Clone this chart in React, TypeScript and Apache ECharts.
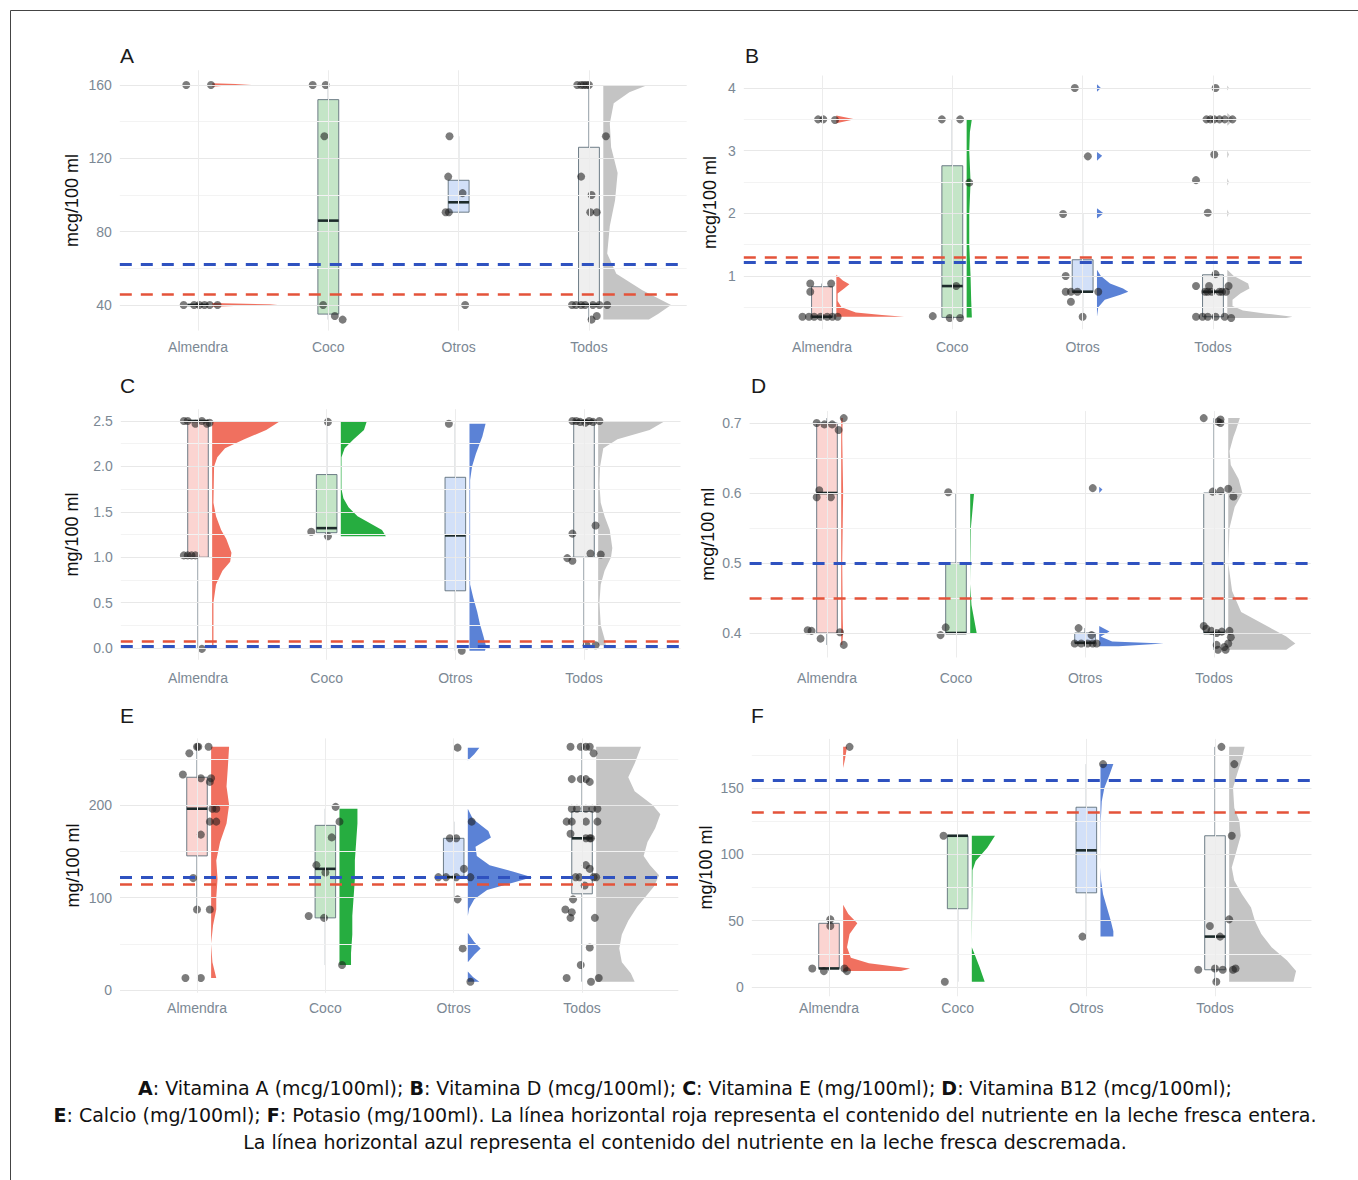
import React, { useEffect, useRef } from 'react';
import * as echarts from 'echarts';

const categories = ['Almendra', 'Coco', 'Otros', 'Todos'];
const violinColors = ['#f0705f', '#26ad40', '#5b82d6', '#c4c4c4'];
const boxFills = ['rgba(240,100,90,0.28)', 'rgba(60,170,70,0.3)', 'rgba(90,140,230,0.27)', 'rgba(180,180,180,0.22)'];
const RED = '#e4533a';
const BLUE = '#2f52c0';
const VIOLIN_BASE = 0.11;
const BOX_HALF = 0.08;

// ---------- Panel A: Vitamina A ----------
const aTicks = [40, 80, 120, 160];
const aMinor = [60, 100, 140];
const aRef = [46, 62]; // [roja (entera), azul (descremada)]
const aBoxes = [[40, 40, 40, 40, 40], [32, 35, 86, 152, 160], [90, 90.6, 96, 108, 132], [32, 40, 40, 126, 160]];
const aPoints = [
  [[-0.09, 160], [0.10, 160], [-0.11, 40], [-0.03, 40], [0.01, 40], [0.05, 40], [0.09, 40], [0.15, 40]],
  [[-0.12, 160], [-0.02, 160], [-0.03, 132], [-0.04, 40], [0.05, 34], [0.11, 32]],
  [[-0.07, 132], [-0.08, 110], [-0.1, 90.6], [-0.075, 90.6], [0.03, 101], [0.05, 40]],
  [[-0.09, 160], [-0.06, 160], [-0.04, 160], [-0.02, 160], [0.0, 160], [0.13, 132], [-0.06, 110], [0.02, 100], [0.01, 90.6], [0.06, 90.6], [-0.13, 40], [-0.1, 40], [-0.06, 40], [-0.03, 40], [0.03, 40], [0.08, 40], [0.14, 40], [0.06, 34], [0.02, 32]],
];
const aViolins = [
  [[161, 0], [160.3, 0.3], [160, 0.17], [159, 0], [41, 0], [40.3, 0.5], [40, 0.44], [39, 0]],
  [],
  [],
  [[160, 0.34], [156, 0.2], [150, 0.08], [139, 0.05], [126, 0.06], [112, 0.11], [97, 0.09], [83, 0.05], [68, 0.03], [57, 0.1], [48, 0.3], [40, 0.52], [35, 0.42], [32, 0.35]],
];

// ---------- Panel B: Vitamina D ----------
const bTicks = [1, 2, 3, 4];
const bMinor = [0.5, 1.5, 2.5, 3.5];
const bRef = [1.3, 1.22];
const bBoxes = [[0.35, 0.35, 0.35, 0.83, 0.88], [0.34, 0.34, 0.84, 2.76, 3.5], [0.35, 0.75, 0.75, 1.26, 2.0], [0.33, 0.35, 0.75, 1.02, 1.03]];
const bPoints = [
  [[-0.03, 3.5], [0.01, 3.5], [0.1, 3.49], [-0.09, 0.88], [0.07, 0.88], [-0.09, 0.75], [-0.15, 0.35], [-0.1, 0.35], [-0.06, 0.35], [-0.01, 0.35], [0.04, 0.35], [0.08, 0.35], [0.12, 0.35]],
  [[-0.08, 3.5], [0.06, 3.5], [0.13, 2.49], [0.03, 0.84], [-0.15, 0.36], [-0.02, 0.33], [0.06, 0.33]],
  [[-0.06, 4.0], [0.04, 2.91], [-0.15, 1.99], [-0.13, 1.0], [-0.13, 0.75], [-0.09, 0.75], [-0.04, 0.75], [0.12, 0.75], [-0.09, 0.59], [0, 0.35]],
  [[0.02, 4.0], [-0.05, 3.5], [-0.02, 3.5], [0.01, 3.5], [0.05, 3.5], [0.09, 3.5], [0.15, 3.5], [0.01, 2.94], [-0.13, 2.53], [-0.04, 2.01], [0.02, 1.03], [-0.13, 0.84], [-0.03, 0.84], [0.12, 0.84], [-0.06, 0.75], [-0.04, 0.75], [-0.01, 0.75], [0.05, 0.75], [0.07, 0.75], [0.1, 0.75], [-0.13, 0.35], [-0.08, 0.35], [-0.04, 0.35], [0.02, 0.35], [0.09, 0.35], [0.14, 0.33]],
];
const bViolins = [
  [[3.56, 0], [3.5, 0.14], [3.44, 0], [1.02, 0], [0.93, 0.05], [0.87, 0.1], [0.8, 0.06], [0.72, 0.01], [0.6, 0.01], [0.5, 0.04], [0.42, 0.15], [0.38, 0.35], [0.35, 0.52]],
  [[3.5, 0.04], [3.3, 0.025], [3.0, 0.02], [2.5, 0.03], [2.0, 0.02], [1.5, 0.02], [1.0, 0.03], [0.6, 0.035], [0.34, 0.04]],
  [[4.06, 0], [4.0, 0.03], [3.94, 0], [2.98, 0], [2.92, 0.04], [2.84, 0], [2.08, 0], [2.0, 0.05], [1.92, 0], [1.1, 0], [1.0, 0.03], [0.88, 0.1], [0.8, 0.2], [0.75, 0.24], [0.7, 0.18], [0.62, 0.06], [0.5, 0.01], [0.35, 0]],
  [[4.04, 0], [4.0, 0.012], [3.96, 0], [3.6, 0], [3.5, 0.05], [3.4, 0], [3.0, 0], [2.94, 0.012], [2.88, 0], [2.56, 0], [2.5, 0.012], [2.44, 0], [2.06, 0], [2.0, 0.012], [1.94, 0], [1.1, 0], [1.0, 0.05], [0.88, 0.16], [0.8, 0.17], [0.72, 0.1], [0.62, 0.04], [0.52, 0.04], [0.45, 0.12], [0.4, 0.3], [0.35, 0.5], [0.33, 0.45]],
];

// ---------- Panel C: Vitamina E ----------
const cTicks = [0, 0.5, 1, 1.5, 2, 2.5];
const cMinor = [0.25, 0.75, 1.25, 1.75, 2.25];
const cRef = [0.07, 0.02];
const cBoxes = [[0, 1.0, 2.5, 2.5, 2.5], [1.23, 1.27, 1.32, 1.91, 2.49], [-0.03, 0.63, 1.24, 1.88, 2.47], [0.03, 1.0, 2.5, 2.5, 2.5]];
const cPoints = [
  [[-0.11, 2.5], [-0.08, 2.5], [-0.02, 2.47], [0.03, 2.5], [0.07, 2.47], [0.09, 2.48], [-0.11, 1.02], [-0.08, 1.02], [-0.05, 1.02], [-0.02, 1.02], [0.03, -0.01]],
  [[0.01, 2.49], [-0.12, 1.28], [0.01, 1.23]],
  [[-0.05, 2.47], [0.05, -0.03]],
  [[-0.09, 2.5], [-0.06, 2.5], [-0.03, 2.49], [0.01, 2.48], [0.04, 2.5], [0.07, 2.49], [0.12, 2.5], [-0.09, 1.26], [0.09, 1.35], [0.05, 1.04], [0.13, 1.03], [-0.13, 0.99], [-0.09, 0.96], [0.02, 0.03], [0.09, 0.03]],
];
const cViolins = [
  [[2.5, 0.53], [2.4, 0.42], [2.3, 0.25], [2.2, 0.1], [2.1, 0.04], [2.0, 0.015], [1.6, 0.01], [1.45, 0.03], [1.3, 0.07], [1.2, 0.11], [1.05, 0.15], [0.95, 0.14], [0.85, 0.08], [0.7, 0.03], [0.5, 0.01], [0.2, 0.01], [0, 0.01]],
  [[2.49, 0.2], [2.4, 0.18], [2.3, 0.1], [2.2, 0.03], [2.1, 0.005], [1.75, 0.005], [1.65, 0.02], [1.55, 0.06], [1.45, 0.13], [1.38, 0.22], [1.3, 0.32], [1.23, 0.35]],
  [[2.47, 0.125], [2.33, 0.1], [2.14, 0.05], [2.0, 0.02], [1.85, 0.005], [0.7, 0.005], [0.55, 0.03], [0.4, 0.06], [0.27, 0.08], [0.12, 0.11], [0.01, 0.13], [-0.03, 0.12]],
  [[2.5, 0.52], [2.4, 0.4], [2.3, 0.15], [2.2, 0.04], [2.0, 0.015], [1.8, 0.01], [1.6, 0.02], [1.45, 0.05], [1.3, 0.09], [1.1, 0.11], [1.0, 0.1], [0.85, 0.05], [0.7, 0.02], [0.5, 0.01], [0.25, 0.02], [0.1, 0.05], [0.03, 0.06]],
];

// ---------- Panel D: Vitamina B12 ----------
const dTicks = [0.4, 0.5, 0.6, 0.7];
const dMinor = [0.45, 0.55, 0.65];
const dRef = [0.45, 0.5];
const dBoxes = [[0.383, 0.4, 0.6, 0.7, 0.707], [0.4, 0.4, 0.4, 0.5, 0.6], [0.38, 0.386, 0.386, 0.4, 0.407], [0.376, 0.4, 0.4, 0.6, 0.707]];
const dPoints = [
  [[-0.08, 0.7], [-0.02, 0.698], [0.04, 0.698], [0.09, 0.69], [0.13, 0.707], [-0.08, 0.594], [-0.06, 0.604], [0.03, 0.594], [-0.15, 0.404], [-0.12, 0.403], [-0.05, 0.392], [0.1, 0.401], [0.13, 0.383]],
  [[-0.06, 0.601], [-0.08, 0.408], [-0.12, 0.397]],
  [[0.06, 0.607], [-0.05, 0.407], [0.05, 0.397], [-0.08, 0.385], [-0.03, 0.385], [0.02, 0.385], [0.06, 0.385], [0.09, 0.385]],
  [[-0.08, 0.707], [0.03, 0.702], [0.05, 0.705], [0.05, 0.7], [-0.01, 0.602], [0.05, 0.603], [0.11, 0.606], [0.15, 0.595], [-0.08, 0.41], [-0.06, 0.406], [-0.02, 0.403], [0.02, 0.4], [0.06, 0.402], [0.12, 0.403], [0.13, 0.394], [0.02, 0.383], [0.08, 0.38], [0.11, 0.385], [0.03, 0.376], [0.09, 0.376]],
];
const dViolins = [
  [[0.707, 0.012], [0.68, 0.008], [0.6, 0.015], [0.5, 0.008], [0.42, 0.012], [0.4, 0.015], [0.383, 0.008]],
  [[0.6, 0.03], [0.58, 0.02], [0.55, 0.005], [0.47, 0], [0.44, 0.01], [0.42, 0.03], [0.4, 0.05]],
  [[0.609, 0], [0.605, 0.025], [0.6, 0], [0.41, 0], [0.402, 0.08], [0.395, 0.01], [0.388, 0.1], [0.385, 0.5], [0.381, 0.15]],
  [[0.707, 0.09], [0.69, 0.06], [0.68, 0.04], [0.66, 0.01], [0.64, 0.02], [0.62, 0.08], [0.6, 0.11], [0.58, 0.05], [0.55, 0.01], [0.5, 0], [0.46, 0.03], [0.43, 0.1], [0.41, 0.3], [0.395, 0.45], [0.385, 0.52], [0.376, 0.45]],
];

// ---------- Panel E: Calcio ----------
const eTicks = [0, 100, 200];
const eMinor = [50, 150, 250];
const eRef = [114, 122];
const eBoxes = [[87, 145, 196, 230, 263], [27, 78, 131, 178, 196], [98, 122, 122, 164, 182], [9, 104, 164, 193, 263]];
const ePoints = [
  [[-0.06, 256], [0.0, 263], [0.01, 263], [0.09, 263], [-0.11, 233], [0.03, 229], [0.11, 229], [0.1, 225], [0.15, 196], [0.12, 196], [0.1, 182], [0.15, 182], [0.03, 168], [-0.03, 121], [0.0, 87], [0.1, 87], [-0.09, 13], [0.03, 13]],
  [[0.08, 198], [0.11, 182], [0.05, 165], [-0.07, 135], [0.0, 127], [-0.13, 80], [-0.01, 78], [0.13, 27]],
  [[0.03, 262], [0.14, 182], [-0.03, 164], [0.02, 164], [0.08, 131], [-0.12, 122], [-0.06, 122], [0.02, 122], [0.13, 122], [0.03, 98], [0.07, 45], [0.13, 9]],
  [[-0.09, 263], [-0.01, 263], [0.03, 263], [0.06, 263], [0.09, 256], [-0.08, 228], [-0.01, 228], [0.03, 228], [0.06, 225], [-0.08, 196], [-0.04, 196], [0.03, 196], [0.08, 196], [0.12, 196], [-0.12, 182], [-0.08, 182], [0.03, 182], [0.12, 182], [-0.09, 169], [0.03, 164], [0.06, 164], [0.07, 164], [0.03, 135], [0.06, 131], [-0.05, 122], [-0.02, 122], [0.09, 122], [0.11, 122], [0.02, 113], [-0.07, 98], [-0.13, 87], [-0.08, 84], [-0.09, 78], [0.1, 78], [0.06, 46], [-0.01, 27], [-0.12, 13], [0.13, 13], [0.07, 9]],
];
const eViolins = [
  [[263, 0.14], [240, 0.13], [220, 0.12], [200, 0.14], [180, 0.12], [160, 0.07], [140, 0.04], [120, 0.05], [100, 0.04], [87, 0.04], [70, 0.015], [50, 0], [30, 0.01], [13, 0.04]],
  [[196, 0.14], [180, 0.14], [160, 0.13], [140, 0.12], [120, 0.12], [100, 0.11], [80, 0.1], [60, 0.1], [40, 0.09], [27, 0.09]],
  [[262, 0.09], [255, 0.05], [248, 0], [196, 0], [185, 0.04], [172, 0.16], [165, 0.18], [155, 0.06], [145, 0.07], [135, 0.17], [128, 0.35], [122, 0.5], [116, 0.35], [108, 0.15], [98, 0.05], [88, 0.01], [80, 0], [62, 0], [52, 0.05], [45, 0.1], [38, 0.05], [30, 0], [20, 0], [14, 0.04], [9, 0.09]],
  [[263, 0.35], [245, 0.3], [230, 0.25], [215, 0.3], [200, 0.44], [190, 0.5], [175, 0.46], [160, 0.4], [145, 0.37], [135, 0.42], [124, 0.49], [112, 0.45], [100, 0.38], [90, 0.32], [75, 0.25], [60, 0.2], [45, 0.18], [30, 0.2], [18, 0.27], [9, 0.3]],
];

// ---------- Panel F: Potasio ----------
const fTicks = [0, 50, 100, 150];
const fMinor = [25, 75, 125, 175];
const fRef = [132, 156];
const fBoxes = [[12, 14, 14, 48, 51], [4, 59, 114, 114, 114], [38, 71, 103, 135.5, 168], [4, 13, 38, 114, 181]];
const fPoints = [
  [[0.16, 181], [-0.13, 14], [-0.04, 12], [0.12, 14], [0.14, 12], [0.01, 51], [0.01, 46]],
  [[-0.11, 114], [-0.1, 4]],
  [[0.13, 168], [-0.03, 38]],
  [[0.05, 181], [0.15, 168], [0.13, 114], [-0.04, 46], [0.11, 51], [-0.13, 13], [0.0, 14], [0.06, 13], [0.14, 13], [0.16, 14], [0.01, 4], [0.04, 38]],
];
const fViolins = [
  [[181, 0.03], [172, 0.015], [165, 0], [62, 0], [55, 0.04], [48, 0.11], [40, 0.05], [30, 0.03], [22, 0.06], [18, 0.2], [14, 0.52], [12, 0.45]],
  [[114, 0.18], [105, 0.12], [95, 0.03], [88, 0.005], [30, 0], [25, 0.02], [15, 0.06], [4, 0.1]],
  [[168, 0.1], [160, 0.07], [150, 0.03], [140, 0.01], [125, 0.002], [90, 0], [80, 0.005], [70, 0.02], [60, 0.05], [50, 0.08], [42, 0.1], [38, 0.1]],
  [[181, 0.12], [172, 0.1], [160, 0.06], [150, 0.03], [135, 0.04], [125, 0.08], [114, 0.09], [100, 0.05], [90, 0.02], [80, 0.04], [70, 0.1], [60, 0.17], [50, 0.2], [40, 0.25], [30, 0.33], [20, 0.45], [12, 0.52], [4, 0.5]],
];

const captionLines = [
  '{b|A}: Vitamina A (mcg/100ml); {b|B}: Vitamina D (mcg/100ml); {b|C}: Vitamina E (mg/100ml); {b|D}: Vitamina B12 (mcg/100ml);',
  '{b|E}: Calcio (mg/100ml); {b|F}: Potasio (mg/100ml). La línea horizontal roja representa el contenido del nutriente en la leche fresca entera.',
  'La línea horizontal azul representa el contenido del nutriente en la leche fresca descremada.',
];

const panels = [
  { letter: 'A', yName: 'mcg/100 ml', min: 26, max: 168, ticks: aTicks, minor: aMinor, dec: 0, boxes: aBoxes, points: aPoints, violins: aViolins, ref: aRef,
    grid: { left: 119.8, top: 70.3, width: 566.9, height: 260.3 }, labelMargin: 9, nameGap: 39, letterPos: [120, 55] },
  { letter: 'B', yName: 'mcg/100 ml', min: 0.15, max: 4.2, ticks: bTicks, minor: bMinor, dec: 0, boxes: bBoxes, points: bPoints, violins: bViolins, ref: bRef,
    grid: { left: 743.8, top: 75.5, width: 566.9, height: 253.8 }, labelMargin: 10.5, nameGap: 25, letterPos: [745, 55] },
  { letter: 'C', yName: 'mg/100 ml', min: -0.13, max: 2.63, ticks: cTicks, minor: cMinor, dec: 1, boxes: cBoxes, points: cPoints, violins: cViolins, ref: cRef,
    grid: { left: 120.8, top: 409.2, width: 559.7, height: 250.6 }, labelMargin: 11, nameGap: 40, letterPos: [120, 385] },
  { letter: 'D', yName: 'mcg/100 ml', min: 0.365, max: 0.717, ticks: dTicks, minor: dMinor, dec: 1, boxes: dBoxes, points: dPoints, violins: dViolins, ref: dRef,
    grid: { left: 749.6, top: 411.1, width: 561.2, height: 246.4 }, labelMargin: 13.5, nameGap: 33, letterPos: [751, 385] },
  { letter: 'E', yName: 'mg/100 ml', min: -3, max: 272, ticks: eTicks, minor: eMinor, dec: 0, boxes: eBoxes, points: ePoints, violins: eViolins, ref: eRef,
    grid: { left: 120, top: 738.4, width: 558.3, height: 254.4 }, labelMargin: 8, nameGap: 38, letterPos: [120, 715] },
  { letter: 'F', yName: 'mg/100 ml', min: -7, max: 187, ticks: fTicks, minor: fMinor, dec: 0, boxes: fBoxes, points: fPoints, violins: fViolins, ref: fRef,
    grid: { left: 751.8, top: 738.9, width: 559.7, height: 257.4 }, labelMargin: 5, nameGap: 37, letterPos: [751, 715] },
];

const AXIS_TEXT = '#7b8894';
const FONT = 'Liberation Sans, Arial, sans-serif';

function buildOption() {
  const grid: any[] = [];
  const xAxis: any[] = [];
  const yAxis: any[] = [];
  const series: any[] = [];
  const graphic: any[] = [];

  panels.forEach((p, i) => {
    grid.push({ ...p.grid, containLabel: false });
    xAxis.push({
      type: 'value', gridIndex: i, min: 0.4, max: 4.75,
      axisLine: { show: false }, axisTick: { show: false }, splitLine: { show: false },
      axisLabel: {
        customValues: [1, 2, 3, 4],
        formatter: (v: number) => categories[Math.round(v) - 1] || '',
        color: AXIS_TEXT, fontSize: 14, margin: p.labelMargin, fontFamily: FONT,
      },
    });
    yAxis.push({
      type: 'value', gridIndex: i, min: p.min, max: p.max,
      axisLine: { show: false }, axisTick: { show: false }, splitLine: { show: false },
      axisLabel: {
        customValues: p.ticks,
        formatter: (v: number) => v.toFixed(p.dec),
        color: AXIS_TEXT, fontSize: 14, margin: 8, fontFamily: FONT,
      },
      name: p.yName, nameLocation: 'middle', nameGap: p.nameGap,
      nameTextStyle: { fontSize: 18, color: '#111', fontFamily: FONT },
    });

    // grid lines
    series.push({
      type: 'scatter', xAxisIndex: i, yAxisIndex: i, data: [], z: 0, silent: true,
      markLine: {
        silent: true, symbol: ['none', 'none'], label: { show: false }, animation: false,
        data: [
          ...p.minor.map((v) => ({ yAxis: v, lineStyle: { color: '#f3f3f3', width: 1, type: 'solid' } })),
          ...p.ticks.map((v) => ({ yAxis: v, lineStyle: { color: '#e8e8e8', width: 1, type: 'solid' } })),
          ...[1, 2, 3, 4].map((v) => ({ xAxis: v, lineStyle: { color: '#ececec', width: 1, type: 'solid' } })),
        ],
      },
    });

    // half violins
    const viol = p.violins;
    series.push({
      type: 'custom', xAxisIndex: i, yAxisIndex: i, z: 1, silent: true,
      data: categories.map((_, k) => [k + 1, p.min]),
      renderItem: (params: any, api: any) => {
        const k = params.dataIndex;
        const prof = viol[k];
        if (!prof || prof.length === 0) return null;
        const base = k + 1 + VIOLIN_BASE;
        const pts: number[][] = [api.coord([base, prof[0][0]])];
        prof.forEach(([v, w]) => pts.push(api.coord([base + w, v])));
        pts.push(api.coord([base, prof[prof.length - 1][0]]));
        return { type: 'polygon', shape: { points: pts }, style: { fill: violinColors[k], lineWidth: 0 } };
      },
    });

    // boxes
    series.push({
      type: 'custom', xAxisIndex: i, yAxisIndex: i, z: 2, silent: true,
      data: p.boxes.map((b, k) => [k + 1, ...b]),
      encode: { x: 0, y: [1, 2, 3, 4, 5] },
      renderItem: (params: any, api: any) => {
        const k = params.dataIndex;
        const x = api.value(0);
        const lo = api.value(1), q1 = api.value(2), med = api.value(3), q3 = api.value(4), hi = api.value(5);
        const pHi = api.coord([x, hi]);
        const pLo = api.coord([x, lo]);
        const tl = api.coord([x - BOX_HALF, q3]);
        const br = api.coord([x + BOX_HALF, q1]);
        const mL = api.coord([x - BOX_HALF, med]);
        const mR = api.coord([x + BOX_HALF, med]);
        const stroke = '#5f6f7b';
        return {
          type: 'group',
          children: [
            { type: 'line', shape: { x1: pHi[0], y1: pHi[1], x2: pHi[0], y2: tl[1] }, style: { stroke, lineWidth: 1 } },
            { type: 'line', shape: { x1: pLo[0], y1: br[1], x2: pLo[0], y2: pLo[1] }, style: { stroke, lineWidth: 1 } },
            { type: 'rect', shape: { x: tl[0], y: tl[1], width: br[0] - tl[0], height: br[1] - tl[1] }, style: { fill: boxFills[k], stroke, lineWidth: 0.9 } },
            { type: 'line', shape: { x1: mL[0], y1: mL[1], x2: mR[0], y2: mR[1] }, style: { stroke: '#1d2b2b', lineWidth: 2.6 } },
          ],
        };
      },
    });

    // jittered points
    const pts: number[][] = [];
    p.points.forEach((list, k) => list.forEach(([dx, v]) => pts.push([k + 1 + dx, v])));
    series.push({
      type: 'scatter', xAxisIndex: i, yAxisIndex: i, z: 3, silent: true,
      symbol: 'circle', symbolSize: 8,
      itemStyle: { color: 'rgba(28,28,28,0.72)' },
      data: pts,
    });

    // reference lines
    series.push({
      type: 'scatter', xAxisIndex: i, yAxisIndex: i, data: [], z: 5, silent: true,
      markLine: {
        silent: true, symbol: ['none', 'none'], label: { show: false }, animation: false,
        data: [
          { yAxis: p.ref[0], lineStyle: { color: RED, width: 2.6, type: [12, 9] } },
          { yAxis: p.ref[1], lineStyle: { color: BLUE, width: 2.8, type: [12, 9] } },
        ],
      },
    });

    graphic.push({
      type: 'text', x: p.letterPos[0], y: p.letterPos[1], silent: true,
      style: { text: p.letter, fontSize: 21, fontFamily: FONT, fill: '#1a1a1a', align: 'left', verticalAlign: 'middle' },
    });
  });

  graphic.push({
    type: 'rect', silent: true, z: -1,
    shape: { x: 10.5, y: 10.5, width: 1360, height: 1200 },
    style: { fill: 'none', stroke: '#444', lineWidth: 1 },
  });

  const capY = [1088, 1115, 1142];
  captionLines.forEach((t, j) => {
    graphic.push({
      type: 'text', x: 685, y: capY[j], silent: true,
      style: {
        text: t, fontSize: 19, fontFamily: 'DejaVu Sans', fill: '#111', align: 'center', verticalAlign: 'middle',
        rich: { b: { fontWeight: 'bold', fontSize: 19, fontFamily: 'DejaVu Sans', fill: '#111' } },
      },
    });
  });

  return {
    animation: false,
    backgroundColor: '#ffffff',
    textStyle: { fontFamily: FONT },
    grid, xAxis, yAxis, series, graphic,
  };
}

export default function App() {
  const ref = useRef<HTMLDivElement>(null);
  useEffect(() => {
    if (!ref.current) return;
    const chart = echarts.init(ref.current, null, { renderer: 'svg' });
    chart.setOption(buildOption() as any);
    return () => chart.dispose();
  }, []);
  return <div ref={ref} style={{ position: 'absolute', left: 0, top: 0, width: 1358, height: 1180 }} />;
}
